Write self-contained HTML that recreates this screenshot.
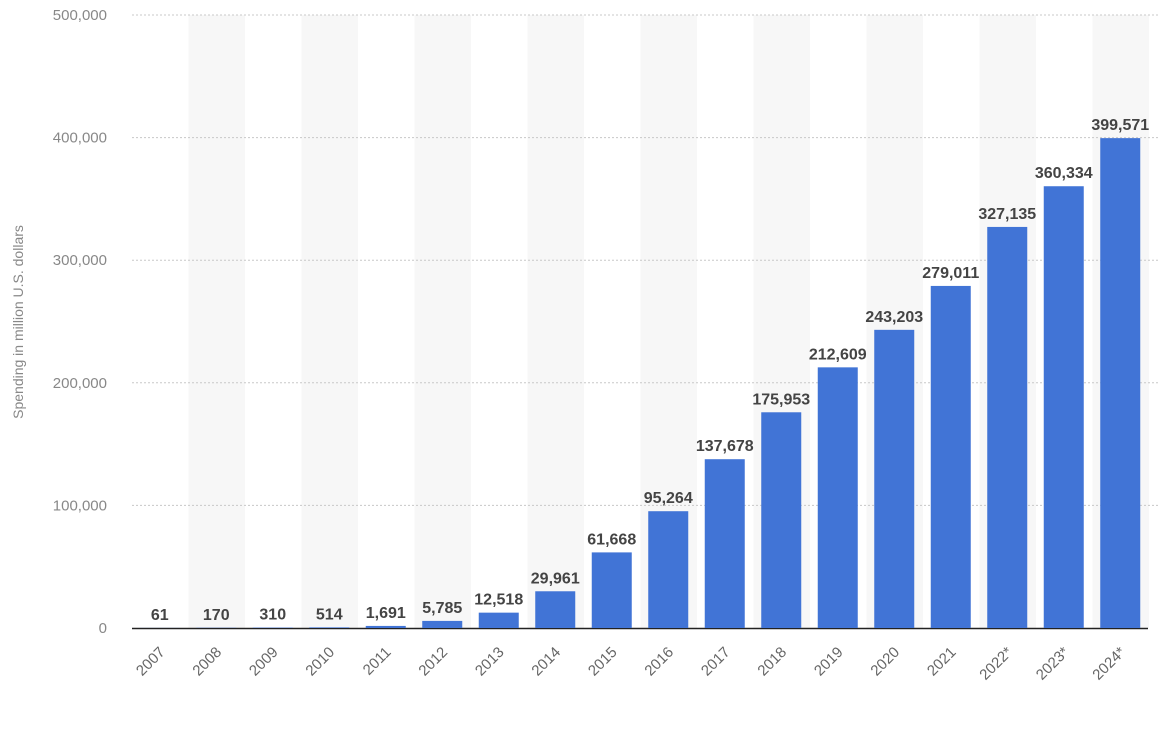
<!DOCTYPE html>
<html><head><meta charset="utf-8"><style>
body{margin:0;background:#fff;}
svg{display:block;font-family:"Liberation Sans",sans-serif;}
</style></head><body>
<svg id="chart" width="1174" height="732" viewBox="0 0 1174 732">
<g id="bands"></g><g id="grid"></g><g id="bars"></g><g id="labels"></g><g id="xticks"></g><g id="yticks"></g>
<text transform="translate(23,322) rotate(-90)" text-anchor="middle" font-size="14" fill="#888">Spending in million U.S. dollars</text>
</svg>
<script>
const categories=["2007","2008","2009","2010","2011","2012","2013","2014","2015","2016","2017","2018","2019","2020","2021","2022*","2023*","2024*"];
const values=[61,170,310,514,1691,5785,12518,29961,61668,95264,137678,175953,212609,243203,279011,327135,360334,399571];
const yTicks=[0,100000,200000,300000,400000,500000];
const NS="http://www.w3.org/2000/svg";
const x0=132,step=56.5,y0=628,yTop=15,yMax=500000,bw=40;
const xc=i=>x0+step*(i+0.5)-0.5;
const y=v=>y0-(v/yMax)*(y0-yTop);
function mk(t,a,p){const e=document.createElementNS(NS,t);for(const k in a)e.setAttribute(k,a[k]);document.getElementById(p).appendChild(e);return e;}
categories.forEach((c,i)=>{
 if(i%2===1){const b=mk('rect',{x:x0+step*i,y:yTop,width:step,height:y0-yTop,fill:'#f7f7f7'},'bands');
 
 }
});
yTicks.forEach(t=>{
 if(t>0){const l=mk('line',{x1:x0,x2:1160,y1:y(t),y2:y(t),stroke:'#c8c8c8','stroke-dasharray':'2,2'},'grid');
 
 }
 const tx=mk('text',{x:107,y:y(t)+5,'text-anchor':'end','font-size':15,fill:'#888'},'yticks');
 tx.textContent=t.toLocaleString('en-US');
 
 
});
const ax=mk('line',{x1:x0,x2:1148,y1:y0+0.5,y2:y0+0.5,stroke:'#222','stroke-width':1.5},'grid');


categories.forEach((c,i)=>{
 const v=values[i];
 const r=mk('rect',{x:xc(i)-bw/2,y:y(v),width:bw,height:y0-y(v),fill:'#4174d6'},'bars');
 
 
 const lb=mk('text',{x:xc(i),y:y(v)-8,'text-anchor':'middle','font-size':16,'font-weight':'bold',fill:'#444'},'labels');
 lb.textContent=v.toLocaleString('en-US');
 
 
 const xt=mk('text',{transform:`translate(${xc(i)+6},${y0+25}) rotate(-45)`,'text-anchor':'end','font-size':15,fill:'#666'},'xticks');
 xt.textContent=c;
 
 
});
</script>
</body></html>
